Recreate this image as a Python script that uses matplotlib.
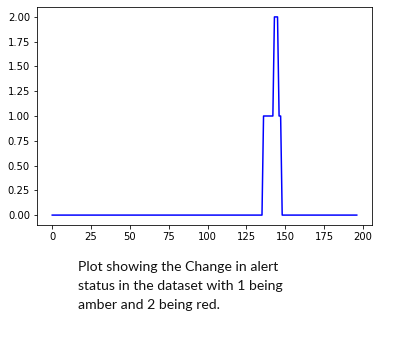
import matplotlib
matplotlib.use("Agg")
import matplotlib.pyplot as plt
import numpy as np

# Alert status per record: 0 = none, 1 = amber, 2 = red
segment_values = [0, 1, 2, 1, 0]
segment_lengths = [136, 7, 3, 2, 49]
status = np.repeat(segment_values, segment_lengths)
index = np.arange(len(status))

caption = "Plot showing the Change in alert\nstatus in the dataset with 1 being\namber and 2 being red."

DPI = 72
fig = plt.figure(figsize=(404 / DPI, 353 / DPI), dpi=DPI)
ax = fig.add_axes([37 / 404, 1 - 225 / 353, (372 - 37) / 404, (225 - 7) / 353])
ax.plot(index, status, color="#0000ff", linewidth=1.5)
ax.set_xticks([0, 25, 50, 75, 100, 125, 150, 175, 200])
ax.set_yticks([0.0, 0.25, 0.5, 0.75, 1.0, 1.25, 1.5, 1.75, 2.0])
ax.set_yticklabels(["%.2f" % v for v in ax.get_yticks()])

fig.text(78 / 404, 1 - 261 / 353, caption, fontsize=14, family="Lato",
         va="top", ha="left", linespacing=1.72, color="#111111")

fig.savefig("out.png", dpi=DPI, facecolor="white")
